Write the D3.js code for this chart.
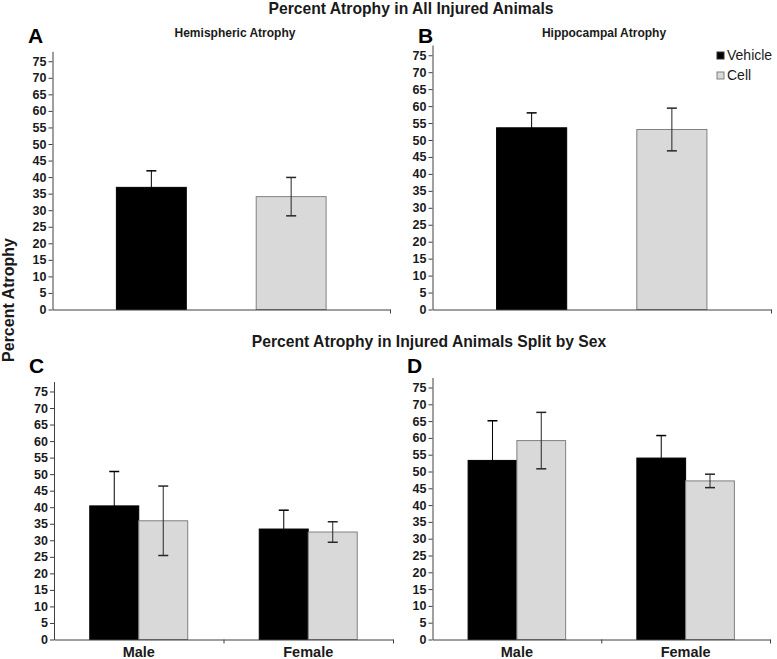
<!DOCTYPE html>
<html>
<head>
<meta charset="utf-8">
<script src="https://cdn.jsdelivr.net/npm/d3@7"></script>
<style>
body { margin: 0; background: white; }
svg { font-family: "Liberation Sans", Arial, sans-serif; }
</style>
</head>
<body>
<div id="chart"></div>
<script>
var width = 777
var height = 659

// Data

var series = ["Vehicle", "Cell"]
var sexes = ["Male", "Female"]
var yTicks = [0, 5, 10, 15, 20, 25, 30, 35, 40, 45, 50, 55, 60, 65, 70, 75]

var hemiMeans = [36.9, 34.1]
var hemiErr = [5.0, 5.8]
var hippoMeans = [53.6, 53.1]
var hippoErr = [4.4, 6.3]

var hemiSexVehicle = [40.4, 33.4]
var hemiSexVehicleErr = [10.4, 5.7]
var hemiSexCell = [35.9, 32.5]
var hemiSexCellErr = [10.5, 3.1]

var hippoSexVehicle = [53.3, 54.0]
var hippoSexVehicleErr = [11.8, 6.7]
var hippoSexCell = [59.2, 47.2]
var hippoSexCellErr = [8.4, 2.0]

var colors = {"Vehicle": "#000000", "Cell": "#d9d9d9"}
var strokes = {"Vehicle": "#000000", "Cell": "#808080"}
var errColors = {"Vehicle": "#000000", "Cell": "#262626"}

var svg = d3.select("#chart")
    .append("svg")
    .attr("width", width)
    .attr("height", height)
    .style("background-color", "white")

// Panel drawing

function drawPanel(p) {
    var g = svg.append("g")

    var y_scale = d3.scaleLinear()
        .domain([0, 78])
        .range([p.y0, p.y0 - 78 * p.ppu])

    var groups = p.groups
    var x0 = d3.scaleBand()
        .domain(groups)
        .range([p.left, p.right])
        .padding(0)

    var x1 = d3.scaleBand()
        .domain(series)
        .range([0, x0.bandwidth()])
        .paddingInner(p.inner)
        .paddingOuter(p.outer)

    // rows: one per group and series
    var rows = []
    groups.forEach(function(grp, gi) {
        series.forEach(function(s, si) {
            rows.push({group: grp, series: s, mean: p.means[si][gi], err: p.errs[si][gi]})
        })
    })

    g.selectAll("rect.bar")
        .data(rows)
        .enter()
        .append("rect")
        .attr("class", "bar")
        .attr("x", function(d) { return x0(d.group) + x1(d.series) })
        .attr("y", function(d) { return y_scale(d.mean) })
        .attr("width", x1.bandwidth())
        .attr("height", function(d) { return y_scale(0) - y_scale(d.mean) })
        .style("fill", function(d) { return colors[d.series] })
        .style("stroke", function(d) { return strokes[d.series] })
        .style("stroke-width", 1)

    // error bars
    var eb = g.selectAll("g.err")
        .data(rows)
        .enter()
        .append("g")
        .attr("class", "err")
        .attr("transform", function(d) {
            return "translate(" + (x0(d.group) + x1(d.series) + x1.bandwidth() / 2) + ",0)"
        })
        .style("stroke", function(d) { return errColors[d.series] })
    eb.append("line")
        .attr("x1", 0).attr("x2", 0)
        .attr("y1", function(d) { return y_scale(d.mean - d.err) })
        .attr("y2", function(d) { return y_scale(d.mean + d.err) })
    eb.append("line")
        .attr("x1", -5).attr("x2", 5)
        .attr("y1", function(d) { return y_scale(d.mean + d.err) })
        .attr("y2", function(d) { return y_scale(d.mean + d.err) })
        .style("stroke-width", 1.5)
    eb.append("line")
        .attr("x1", -5).attr("x2", 5)
        .attr("y1", function(d) { return y_scale(d.mean - d.err) })
        .attr("y2", function(d) { return y_scale(d.mean - d.err) })
        .style("stroke-width", 1.5)

    // y axis
    var yAxis = d3.axisLeft(y_scale)
        .tickValues(yTicks)
        .tickSizeInner(4)
        .tickSizeOuter(0)
    var ya = g.append("g")
        .attr("transform", "translate(" + p.left + ",0)")
        .call(yAxis)
    ya.select(".domain").style("stroke", "#404040")
    ya.selectAll(".tick line").style("stroke", "#404040")
    ya.selectAll(".tick text")
        .attr("x", -6)
        .style("font-size", "12.5px")
        .style("font-weight", "bold")
        .style("fill", "#1a1a1a")
        .style("font-family", "Liberation Sans, Arial, sans-serif")

    // x axis with ticks at category boundaries
    var bScale = d3.scaleLinear()
        .domain([0, groups.length])
        .range([p.left, p.right])
    var xa = g.append("g")
        .attr("transform", "translate(0," + p.y0 + ")")
        .call(d3.axisBottom(bScale)
            .tickValues(d3.range(1, groups.length + 1))
            .tickFormat("")
            .tickSizeInner(4)
            .tickSizeOuter(0))
    xa.select(".domain").style("stroke", "#404040")
    xa.selectAll(".tick line").style("stroke", "#404040")

    if (p.showLabels) {
        g.selectAll("text.cat")
            .data(groups)
            .enter()
            .append("text")
            .attr("class", "cat")
            .attr("x", function(d) { return x0(d) + x0.bandwidth() / 2 })
            .attr("y", p.y0 + 17)
            .attr("text-anchor", "middle")
            .style("font-size", "14.5px")
            .style("font-weight", "bold")
            .style("fill", "#1a1a1a")
            .text(function(d) { return d })
    }

    if (p.subtitle) {
        g.append("text")
            .attr("x", p.subX)
            .attr("y", 37)
            .attr("text-anchor", "middle")
            .style("font-size", "12px")
            .style("font-weight", "bold")
            .style("fill", "#1a1a1a")
            .text(p.subtitle)
    }

    g.append("text")
        .attr("x", p.letterX)
        .attr("y", p.letterY)
        .style("font-size", "21px")
        .style("font-weight", "bold")
        .text(p.letter)
}

drawPanel({
    letter: "A", letterX: 28, letterY: 43,
    subtitle: "Hemispheric Atrophy", subX: 235,
    groups: [""], means: [[hemiMeans[0]], [hemiMeans[1]]], errs: [[hemiErr[0]], [hemiErr[1]]],
    left: 52.5, right: 390, y0: 309.5, ppu: 3.31,
    inner: 0.5, outer: 0.457, showLabels: false
})

drawPanel({
    letter: "B", letterX: 418, letterY: 43,
    subtitle: "Hippocampal Atrophy", subX: 604,
    groups: [""], means: [[hippoMeans[0]], [hippoMeans[1]]], errs: [[hippoErr[0]], [hippoErr[1]]],
    left: 432.5, right: 771, y0: 309.5, ppu: 3.39,
    inner: 0.5, outer: 0.457, showLabels: false
})

drawPanel({
    letter: "C", letterX: 29, letterY: 373,
    groups: sexes, means: [hemiSexVehicle, hemiSexCell], errs: [hemiSexVehicleErr, hemiSexCellErr],
    left: 54, right: 393, y0: 639.5, ppu: 3.307,
    inner: 0, outer: 0.73, showLabels: true
})

drawPanel({
    letter: "D", letterX: 407, letterY: 373,
    groups: sexes, means: [hippoSexVehicle, hippoSexCell], errs: [hippoSexVehicleErr, hippoSexCellErr],
    left: 432.5, right: 770, y0: 639.5, ppu: 3.36,
    inner: 0, outer: 0.73, showLabels: true
})

// Titles

svg.append("text")
    .attr("x", 411)
    .attr("y", 14)
    .attr("text-anchor", "middle")
    .style("font-size", "15.7px")
    .style("font-weight", "bold")
    .style("fill", "#1a1a1a")
    .text("Percent Atrophy in All Injured Animals")

svg.append("text")
    .attr("x", 429)
    .attr("y", 347)
    .attr("text-anchor", "middle")
    .style("font-size", "15.7px")
    .style("font-weight", "bold")
    .style("fill", "#1a1a1a")
    .text("Percent Atrophy in Injured Animals Split by Sex")

svg.append("text")
    .attr("transform", "translate(14,300) rotate(-90)")
    .attr("text-anchor", "middle")
    .style("font-size", "16px")
    .style("font-weight", "bold")
    .style("fill", "#1a1a1a")
    .text("Percent Atrophy")

// Legend

var legend = svg.append("g")
    .selectAll("g")
    .data(series)
    .enter()
    .append("g")
    .attr("transform", function(d, i) { return "translate(717," + (52 + i * 20) + ")" })
legend.append("rect")
    .attr("width", 7)
    .attr("height", 7)
    .style("fill", function(d) { return colors[d] })
    .style("stroke", function(d) { return d == "Vehicle" ? "#333333" : "#808080" })
legend.append("text")
    .attr("x", 10)
    .attr("y", 7.5)
    .style("font-size", "14px")
    .style("fill", "#1a1a1a")
    .text(function(d) { return d })
</script>
</body>
</html>
